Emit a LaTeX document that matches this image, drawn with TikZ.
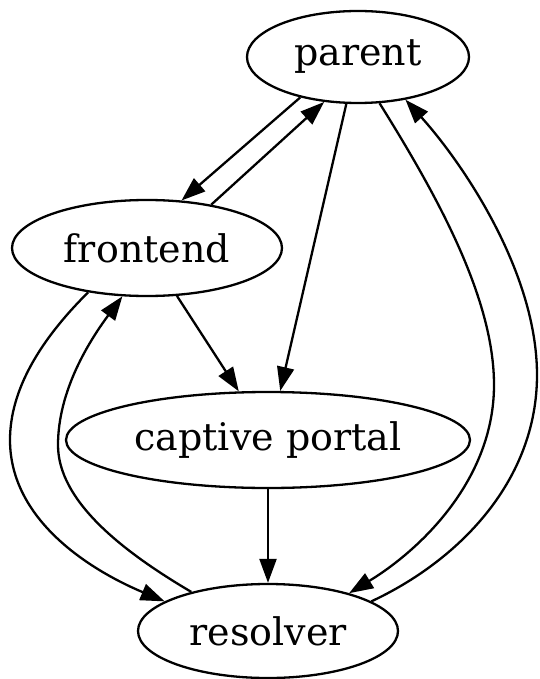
\documentclass[tikz,border=0pt]{standalone}
\usepackage{fontspec}
\setmainfont{DejaVu Serif}
\usetikzlibrary{positioning,shapes,arrows.meta}

\tikzset{
  gvnode/.style={ellipse, draw, line width=2.3pt, inner sep=0pt,
    font=\fontsize{38}{45}\selectfont},
  gvedge/.style={-{Triangle[length=24pt,width=17pt]}, line width=2.3pt}
}

\begin{document}
\begin{tikzpicture}[x=1pt, y=-1pt]
	\useasboundingbox (0,0) rectangle (539,679);
	\node [gvnode, minimum width=222pt, minimum height=92pt] (parent) at (358,57) {parent};
	\node [gvnode, minimum width=270pt, minimum height=96pt] (frontend) at (147,248) {frontend};
	\node [gvnode, minimum width=404pt, minimum height=96pt] (captive) at (268,440) {captive portal};
	\node [gvnode, minimum width=260pt, minimum height=94pt] (resolver) at (268,631) {resolver};
	% straight edges
	\draw [gvedge] (parent.215) -- (frontend.54);
	\draw [gvedge] (frontend.34) -- (parent.233);
	\draw [gvedge] (parent.256) -- (captive.76);
	\draw [gvedge] (frontend.302) -- (captive.121);
	\draw [gvedge] (captive.270) -- (resolver.90);
	% curved edges on the left
	\draw [gvedge] (frontend.217) .. controls (40,340) and (10,390) .. (10,440)
		.. controls (10,520) and (90,570) .. (resolver.164);
	\draw [gvedge] (resolver.153) .. controls (120,550) and (58,500) .. (58,445)
		.. controls (58,390) and (90,340) .. (frontend.243);
	% curved edges on the right
	\draw [gvedge] (parent.295) .. controls (440,200) and (494,300) .. (494,385)
		.. controls (494,480) and (420,550) .. (resolver.25);
	\draw [gvedge] (resolver.16) .. controls (460,560) and (537,480) .. (537,375)
		.. controls (537,270) and (460,160) .. (parent.318);
\end{tikzpicture}
\end{document}
